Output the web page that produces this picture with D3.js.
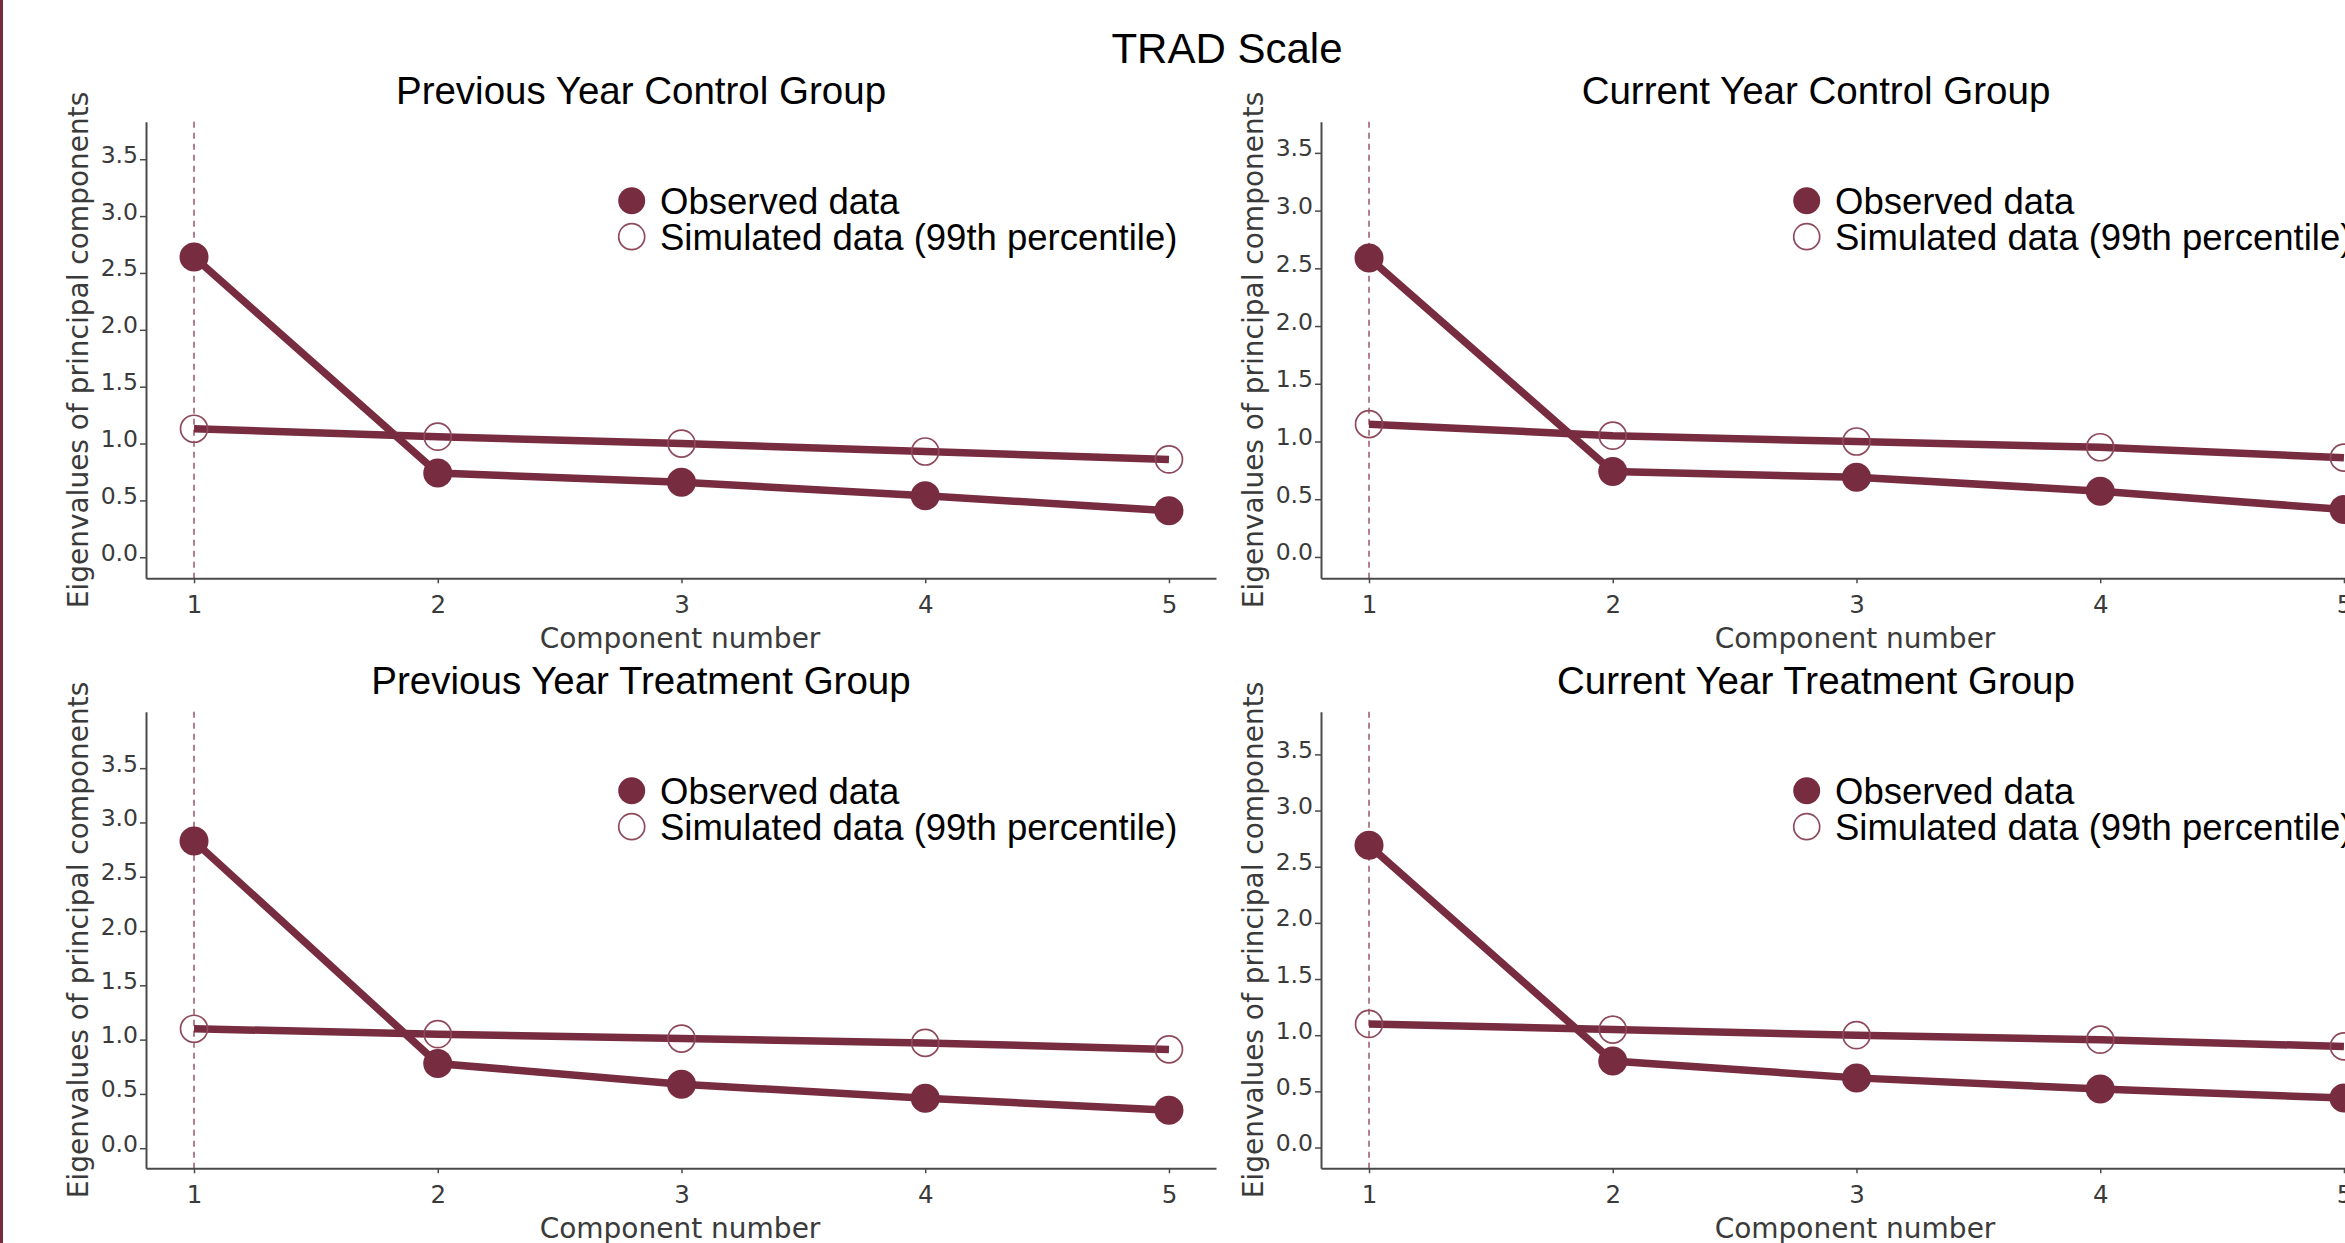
<!DOCTYPE html>
<html>
<head>
<meta charset="utf-8">
<script src="https://cdn.jsdelivr.net/npm/d3@7"></script>
<style>
  html, body { margin: 0; padding: 0; background: #ffffff; overflow: hidden; }
  svg { display: block; }
</style>
</head>
<body>
<svg id="chart" width="2345" height="1243"></svg>
<script>
// ---------------- DATA ----------------
const mainTitle = "TRAD Scale";
const components = [1, 2, 3, 4, 5];
const xTickLabels = ["1", "2", "3", "4", "5"];
const yTicks = [0, 0.5, 1, 1.5, 2, 2.5, 3, 3.5];
const yTickLabels = ["0.0", "0.5", "1.0", "1.5", "2.0", "2.5", "3.0", "3.5"];
const panelTitles = [
  "Previous Year Control Group",
  "Current Year Control Group",
  "Previous Year Treatment Group",
  "Current Year Treatment Group"
];
const seriesNames = ["Observed data", "Simulated data (99th percentile)"];
const xAxisTitle = "Component number";
const yAxisTitle = "Eigenvalues of principal components";

const observedPrevControl = [2.64, 0.74, 0.66, 0.54, 0.41];
const simulatedPrevControl = [1.13, 1.06, 1.00, 0.93, 0.86];
const observedCurControl = [2.59, 0.74, 0.69, 0.57, 0.41];
const simulatedCurControl = [1.15, 1.05, 1.00, 0.95, 0.86];
const observedPrevTreat = [2.83, 0.78, 0.59, 0.46, 0.35];
const simulatedPrevTreat = [1.10, 1.05, 1.01, 0.97, 0.91];
const observedCurTreat = [2.69, 0.77, 0.62, 0.52, 0.44];
const simulatedCurTreat = [1.10, 1.05, 1.00, 0.96, 0.90];

// per-panel upper limit of the value axis range
const yUpper = [3.83, 3.77, 4.02, 3.88];
const yLower = -0.185;
const xDomain = [0.803, 5.193];

// ---------------- LAYOUT / STYLE ----------------
const COLOR = "#782c40";
const HOLLOW = "#8e4a5c";
const AXIS = "#4a4a4a";
const TEXTGREY = "#3a3a3a";
const offsets = [[0, 0], [1175, 0], [0, 590], [1175, 590]];
const plotLeft = 146, plotRight = 1216, plotTop = 121.7, plotBottom = 578.3;

const svg = d3.select("#chart");
svg.append("rect").attr("x", 0).attr("y", 0).attr("width", 2345).attr("height", 1243).attr("fill", "#fff");
svg.append("rect").attr("x", 0).attr("y", 0).attr("width", 3).attr("height", 1243).attr("fill", COLOR);

svg.append("text")
  .attr("x", 1227).attr("y", 63)
  .attr("text-anchor", "middle")
  .attr("font-family", "'Liberation Sans', Arial, sans-serif")
  .attr("font-size", 42).attr("fill", "#000")
  .text(mainTitle);

const panels = [
  { title: panelTitles[0], obs: observedPrevControl, sim: simulatedPrevControl },
  { title: panelTitles[1], obs: observedCurControl, sim: simulatedCurControl },
  { title: panelTitles[2], obs: observedPrevTreat, sim: simulatedPrevTreat },
  { title: panelTitles[3], obs: observedCurTreat, sim: simulatedCurTreat }
];

panels.forEach((p, i) => {
  const [ox, oy] = offsets[i];
  const g = svg.append("g").attr("transform", `translate(${ox},${oy})`);

  const x = d3.scaleLinear().domain(xDomain).range([plotLeft, plotRight]);
  const y = d3.scaleLinear().domain([yLower, yUpper[i]]).range([plotBottom, plotTop]);

  // panel title
  g.append("text")
    .attr("x", 641).attr("y", 104)
    .attr("text-anchor", "middle")
    .attr("font-family", "'Liberation Sans', Arial, sans-serif")
    .attr("font-size", 38.5).attr("fill", "#000")
    .text(p.title);

  // dashed reference line at component 1
  g.append("line")
    .attr("x1", x(components[0])).attr("x2", x(components[0]))
    .attr("y1", plotTop).attr("y2", plotBottom)
    .attr("stroke", "#a0606f").attr("stroke-width", 1.6)
    .attr("stroke-dasharray", "6,5");

  // y axis
  const yAxis = d3.axisLeft(y).tickValues(yTicks)
    .tickFormat((d, k) => yTickLabels[k]).tickSize(6).tickSizeOuter(0).tickPadding(2);
  const ya = g.append("g").attr("transform", `translate(${plotLeft},0)`).call(yAxis);
  ya.select(".domain").attr("stroke", AXIS).attr("stroke-width", 2);
  ya.selectAll(".tick line").attr("stroke", AXIS).attr("stroke-width", 1.5);
  ya.selectAll(".tick text")
    .attr("dy", 3)
    .attr("font-family", "'DejaVu Sans', Verdana, sans-serif")
    .attr("font-size", 23.5).attr("fill", TEXTGREY);

  // x axis
  const xAxis = d3.axisBottom(x).tickValues(components)
    .tickFormat((d, k) => xTickLabels[k]).tickSize(5).tickSizeOuter(0).tickPadding(12);
  const xa = g.append("g").attr("transform", `translate(0,${plotBottom})`).call(xAxis);
  xa.select(".domain").attr("stroke", AXIS).attr("stroke-width", 2);
  xa.selectAll(".tick line").attr("stroke", AXIS).attr("stroke-width", 1.5);
  xa.selectAll(".tick text")
    .attr("font-family", "'DejaVu Sans', Verdana, sans-serif")
    .attr("font-size", 24.5).attr("fill", TEXTGREY);

  // axis titles
  g.append("text")
    .attr("x", 680).attr("y", 648)
    .attr("text-anchor", "middle")
    .attr("font-family", "'DejaVu Sans', Verdana, sans-serif")
    .attr("font-size", 28).attr("fill", TEXTGREY)
    .text(xAxisTitle);
  g.append("text")
    .attr("transform", `translate(88,${(plotTop + plotBottom) / 2}) rotate(-90)`)
    .attr("text-anchor", "middle")
    .attr("font-family", "'DejaVu Sans', Verdana, sans-serif")
    .attr("font-size", 28).attr("fill", TEXTGREY)
    .text(yAxisTitle);

  const line = d3.line().x((d, k) => x(components[k])).y(d => y(d));

  // simulated line
  g.append("path").datum(p.sim).attr("d", line)
    .attr("fill", "none").attr("stroke", COLOR).attr("stroke-width", 7.5);
  // observed line
  g.append("path").datum(p.obs).attr("d", line)
    .attr("fill", "none").attr("stroke", COLOR).attr("stroke-width", 7.5);

  // simulated markers (hollow)
  g.selectAll(".sim").data(p.sim).enter().append("circle")
    .attr("cx", (d, k) => x(components[k])).attr("cy", d => y(d))
    .attr("r", 13.5).attr("fill", "none")
    .attr("stroke", HOLLOW).attr("stroke-width", 1.7);
  // observed markers (filled)
  g.selectAll(".obs").data(p.obs).enter().append("circle")
    .attr("cx", (d, k) => x(components[k])).attr("cy", d => y(d))
    .attr("r", 14.5).attr("fill", COLOR);

  // legend
  const lg = g.append("g");
  lg.append("circle").attr("cx", 631.7).attr("cy", 200.7).attr("r", 13.5).attr("fill", COLOR);
  lg.append("circle").attr("cx", 631.7).attr("cy", 236.7).attr("r", 13)
    .attr("fill", "none").attr("stroke", HOLLOW).attr("stroke-width", 1.7);
  lg.append("text").attr("x", 660).attr("y", 214)
    .attr("font-family", "'Liberation Sans', Arial, sans-serif")
    .attr("font-size", 36.5).attr("fill", "#000").text(seriesNames[0]);
  lg.append("text").attr("x", 660).attr("y", 250)
    .attr("font-family", "'Liberation Sans', Arial, sans-serif")
    .attr("font-size", 36.5).attr("fill", "#000").text(seriesNames[1]);
});
</script>
</body>
</html>
